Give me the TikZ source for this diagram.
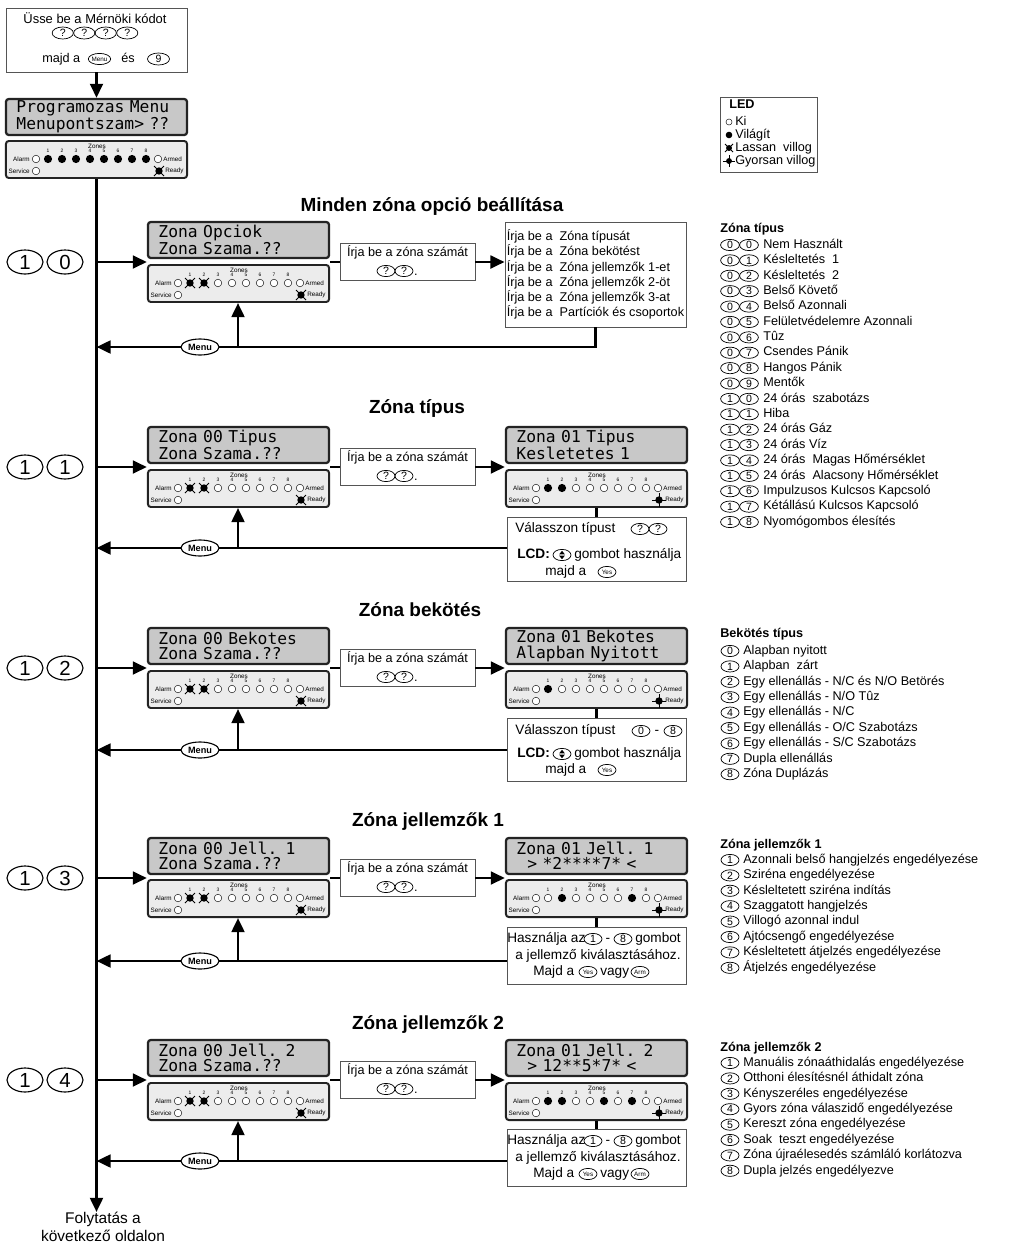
\documentclass[tikz,border=0pt]{standalone}
\usepackage{fontspec}
\setmainfont{Liberation Sans}
\setmonofont{DejaVu Sans Mono}
\usetikzlibrary{arrows.meta,shapes.geometric,positioning,calc}
\definecolor{lcdgray}  {RGB}{200,200,200}
\definecolor{panelgray}{RGB}{236,236,236}
\definecolor{boxline}  {RGB}{85,85,85}
\definecolor{frameline}{RGB}{35,35,35}

\tikzset{
  ledoff/.pic={\draw[line width=0.3pt,fill=white] (0,0) circle[radius=3.8];},
  ledon/.pic={\fill (0,0) circle[radius=4.1];},
  ledslow/.pic={\fill (0,0) circle[radius=3.7];
    \draw[line width=0.7pt] (-5,-5) -- (5,5) (-5,5) -- (5,-5);},
  ledfast/.pic={\fill (0,0) circle[radius=3.7];
    \draw[line width=0.6pt] (-7,0) -- (7,0) (0,-7) -- (0,7);},
  updn/.pic={\fill (-2.8,-0.7) -- (2.8,-0.7) -- (0,-4.2) -- cycle;
    \fill (-2.8,0.7) -- (2.8,0.7) -- (0,4.2) -- cycle;},
}

\begin{document}
\begin{tikzpicture}[x=0.025cm,y=-0.025cm,
  txt/.style={font=\fontsize{9}{10.8}\selectfont,inner sep=0pt,
              text height=6.5pt,text depth=1.9pt},
  anstxt/.style={txt,font=\fontsize{9.7}{11}\selectfont},
  hdr/.style={font=\fontsize{13.5}{16}\selectfont\bfseries,inner sep=0pt},
  listhdr/.style={txt,font=\fontsize{9}{10.8}\selectfont\bfseries,anchor=west},
  ledlbl/.style={font=\fontsize{4.5}{4.5}\selectfont,inner sep=0pt},
  kbtn/.style={ellipse,draw,line width=0.5pt,inner sep=0pt,
               minimum width=0.45cm,minimum height=0.28cm,
               text height=5.2pt,text depth=0pt,
               font=\fontsize{7.5}{7.5}\selectfont},
  smallkey/.style={kbtn,text height=3.2pt,font=\fontsize{4.5}{4.5}\selectfont},
  bigkey/.style={ellipse,draw,line width=0.8pt,inner sep=0pt,
                 minimum width=0.9cm,minimum height=0.6cm,
                 font=\fontsize{14.5}{14.5}\selectfont},
  menukey/.style={ellipse,draw,line width=0.8pt,fill=white,inner sep=0pt,
                  minimum width=0.95cm,minimum height=0.4cm,
                  font=\fontsize{6.5}{6.5}\selectfont\bfseries},
  lcd/.style={rectangle,rounded corners=2pt,draw=frameline,line width=1.6pt,
              fill=lcdgray,text width=4.0cm,inner xsep=0.2625cm,inner ysep=1pt,
              minimum height=0.9cm,align=left,
              font=\ttfamily\fontsize{11.6}{10.7}\selectfont},
  ledbox/.style={rectangle,rounded corners=2pt,draw=frameline,line width=1.4pt,
                 fill=panelgray,minimum width=4.525cm,minimum height=0.925cm},
  txtbox/.style={rectangle,draw=boxline,line width=0.6pt,fill=white},
  conn/.style={line width=2pt},
  arr/.style={conn,-{Triangle[length=10pt,width=9pt]}},
]
\useasboundingbox (0,0) rectangle (1024,1249);

%% Engineer code entry
\node[txtbox,minimum width=4.525cm,minimum height=1.6cm] (start) at (96.5,40) {};
\node[txt,font=\fontsize{9.2}{11}\selectfont] (starttxt) at (95,20) {Üsse be a Mérnöki kódot};
\foreach \i in {0,1,2,3}{
  \node[kbtn,minimum width=0.53cm,minimum height=0.3cm] (code\i) at (62.75+21.5*\i,33) {?};
}
\node[txt,anchor=west] (majd0) at (42,59) {majd a};
\node[smallkey,minimum width=0.5cm] (menu0) at (99.5,59) {Menu};
\node[txt] (es0) at (128,59) {és};
\node[kbtn,minimum width=0.55cm,minimum height=0.3cm] (nine) at (158.5,59) {9};

%% LCD displays
\foreach \n/\x/\y/\la/\lb in {
  lcd0/6/99/{Programozas Menu}/{Menupontszam> ??},
  lcdA10/148/222/{Zona Opciok}/{Zona Szama.??},
  lcdA11/148/427/{Zona 00 Tipus}/{Zona Szama.??},
  lcdB11/506/427/{Zona 01 Tipus}/{Kesletetes 1},
  lcdA12/148/628/{Zona 00 Bekotes}/{Zona Szama.??},
  lcdB12/506/628/{Zona 01 Bekotes}/{Alapban Nyitott},
  lcdA13/148/838/{Zona 00 Jell. 1}/{Zona Szama.??},
  lcdB13/506/838/{Zona 01 Jell. 1}/{~~> *2****7* <},
  lcdA14/148/1040/{Zona 00 Jell. 2}/{Zona Szama.??},
  lcdB14/506/1040/{Zona 01 Jell. 2}/{~~> 12**5*7* <}}{
  \node[lcd] (\n) at (\x+90.5,\y+18) {\la\\\lb};
}

%% LED panels (off / on / slow / fast)
\foreach \n/\x/\y/\st/\rd in {
  led0/6/141/{on,on,on,on,on,on,on,on}/slow,
  ledA10/148/265/{slow,slow,off,off,off,off,off,off}/slow,
  ledA11/148/470/{slow,slow,off,off,off,off,off,off}/slow,
  ledB11/506/470/{on,on,off,off,off,off,off,off}/fast,
  ledA12/148/671/{slow,slow,off,off,off,off,off,off}/slow,
  ledB12/506/671/{on,off,off,off,off,off,off,off}/fast,
  ledA13/148/880/{slow,slow,off,off,off,off,off,off}/slow,
  ledB13/506/880/{off,on,off,off,off,off,on,off}/fast,
  ledA14/148/1083/{slow,slow,off,off,off,off,off,off}/slow,
  ledB14/506/1083/{on,on,off,off,on,off,on,off}/fast}{
  \node[ledbox] (\n) at (\x+90.5,\y+18.5) {};
  \begin{scope}[shift={(\x,\y)}]
    \node[ledlbl] (\n-zones) at (91,5) {Zones};
    \node[ledlbl,anchor=east] (\n-alarm) at (24,18) {Alarm};
    \pic at (30,18) {ledoff};
    \node[ledlbl,anchor=east] (\n-svc) at (24,30) {Service};
    \pic at (30,30) {ledoff};
    \pic at (152,18) {ledoff};
    \node[ledlbl,anchor=west] (\n-armed) at (157,18) {Armed};
    \pic at (153,30) {led\rd};
    \node[ledlbl,anchor=west] (\n-ready) at (159,30) {Ready};
    \foreach \s [count=\k] in \st {
      \node[ledlbl,font=\fontsize{3.5}{3.5}\selectfont] (\n-\k) at (28+14*\k,10) {\k};
      \pic at (28+14*\k,18) {led\s};
    }
  \end{scope}
}

%% Main line
\node[txt,align=center,anchor=north,font=\fontsize{11}{12.8}\selectfont,
      text height=,text depth=] (cont) at (103,1212) {Folytatás a\\következő oldalon};
\draw[arr] (start.south) -- (start.south |- lcd0.north);
\draw[arr] (led0.south) -- (led0.south |- cont.north);

%% Section titles
\node[hdr] (hdr10) at (432,207) {Minden zóna opció beállítása};
\node[hdr] (hdr11) at (417,409) {Zóna típus};
\node[hdr] (hdr12) at (420,610) {Zóna bekötés};
\node[hdr] (hdr13) at (428,821) {Zóna jellemzők 1};
\node[hdr] (hdr14) at (428,1024) {Zóna jellemzők 2};

%% 10: option list
\node[txtbox,minimum width=4.525cm,minimum height=2.625cm,align=left,inner sep=1pt,
      font=\fontsize{9}{10.8}\selectfont] (big10) at (595.5,274.5)
  {Írja be a\ \ Zóna típusát\\Írja be a\ \ Zóna bekötést\\
   Írja be a\ \ Zóna jellemzők 1-et\\Írja be a\ \ Zóna jellemzők 2-öt\\
   Írja be a\ \ Zóna jellemzők 3-at\\Írja be a\ \ Partíciók és csoportok};

%% 11: zone type
\node[txtbox,minimum width=4.475cm,minimum height=1.6cm] (ans11) at (596.5,549) {};
\node[anstxt,anchor=west] (pick11) at (515,529) {Válasszon típust};
\node[kbtn] (pa11) at (640,529) {?};
\node[kbtn] (pb11) at (658,529) {?};
\node[anstxt,anchor=west,font=\fontsize{9.7}{11}\selectfont\bfseries] (lcdl11) at (517,555) {LCD:};
\node[kbtn] (ud11) at (562,555) {};
\pic at (ud11) {updn};
\node[anstxt,anchor=west] (use11) at (574,555) {gombot használja};
\node[anstxt,anchor=west] (then11) at (545,572) {majd a};
\node[smallkey] (yes11) at (607,572) {Yes};

%% 12: wiring
\node[txtbox,minimum width=4.475cm,minimum height=1.575cm] (ans12) at (596.5,749.5) {};
\node[anstxt,anchor=west] (pick12) at (515,731) {Válasszon típust};
\node[kbtn] (pa12) at (641,731) {0};
\node[anstxt] (dash12) at (657,731) {-};
\node[kbtn] (pb12) at (673,731) {8};
\node[anstxt,anchor=west,font=\fontsize{9.7}{11}\selectfont\bfseries] (lcdl12) at (517,754) {LCD:};
\node[kbtn] (ud12) at (562,754) {};
\pic at (ud12) {updn};
\node[anstxt,anchor=west] (use12) at (574,754) {gombot használja};
\node[anstxt,anchor=west] (then12) at (545,770) {majd a};
\node[smallkey] (yes12) at (607,770) {Yes};

%% 13 and 14: attributes
\foreach \s/\b in {13/927,14/1129}{
  \node[txtbox,minimum width=4.475cm,minimum height=1.425cm] (ans\s) at (596.5,\b+28.5) {};
  \node[anstxt,anchor=west] (use\s) at (507,\b+12) {Használja az};
  \node[kbtn] (fa\s) at (593,\b+12) {1};
  \node[anstxt] (dash\s) at (608,\b+12) {-};
  \node[kbtn] (fb\s) at (623,\b+12) {8};
  \node[anstxt,anchor=west] (btn\s) at (635,\b+12) {gombot};
  \node[anstxt] (sel\s) at (598,\b+29) {a jellemző kiválasztásához.};
  \node[anstxt,anchor=west] (then\s) at (533,\b+45) {Majd a};
  \node[smallkey] (yes\s) at (588,\b+45) {Yes};
  \node[anstxt,anchor=west] (or\s) at (600,\b+45) {vagy};
  \node[smallkey] (arm\s) at (640,\b+45) {Arm};
}

%% Menu items 10..14
\foreach \s/\d/\y/\m/\t in {10/0/222/347/big10, 11/1/427/548/lcdB11,
    12/2/628/750/lcdB12, 13/3/838/961/lcdB13, 14/4/1040/1161/lcdB14}{
  \node[bigkey] (ka\s) at (25,\y+40) {1};
  \node[bigkey] (kb\s) at (65,\y+40) {\d};
  \coordinate (m\s) at (96.5,\y+40);
  \draw[arr] (m\s) -- (lcdA\s.west |- m\s);
  \node[txtbox,minimum width=3.375cm,minimum height=0.925cm] (ask\s) at (407.5,\y+39.5) {};
  \node[txt] (askt\s) at (407.5,\y+31) {Írja be a zóna számát};
  \node[kbtn] (qa\s) at (386,\y+49) {?};
  \node[kbtn] (qb\s) at (404,\y+49) {?};
  \node[txt] (dot\s) at (416,\y+50) {.};
  \draw[conn] (lcdA\s.east |- m\s) -- (ask\s.west |- m\s);
  \draw[arr] (ask\s.east |- m\s) -- (\t.west |- m\s);
  \coordinate (r\s) at (96.5,\m);
  \ifnum\s=10
    \draw[arr] (big10.south) |- (r\s);
  \else
    \draw[conn] (ledB\s.south) -- (ledB\s.south |- ans\s.north);
    \draw[arr] (ans\s.west |- r\s) -- (r\s);
  \fi
  \node[menukey] (menu\s) at (200,\m) {Menu};
  \coordinate (up\s) at (238,\m);
  \draw[arr] (up\s) -- (up\s |- ledA\s.south);
}

%% LED legend
\node[txtbox,minimum width=2.425cm,minimum height=1.875cm] (legend) at (768.5,134.5) {};
\begin{scope}
  \clip (legend.south west) rectangle (legend.north east);
  \node[listhdr] (legled) at (729,105) {LED};
  \foreach \s/\t/\yy [count=\i] in {off/Ki/122, on/Világít/135,
      slow/Lassan\ \ villog/148, fast/Gyorsan villog/161}{
    \pic[scale=0.8] at (729,\yy) {led\s};
    \node[txt,anchor=west] (leg\i) at (735,\yy) {\t};
  }
\end{scope}

%% Zone types
\node[listhdr] (typhdr) at (720,229) {Zóna típus};
\foreach \a/\b/\t [count=\i from 0] in {0/0/Nem Használt, 0/1/Késleltetés\ \ 1,
    0/2/Késleltetés\ \ 2, 0/3/Belső Követő, 0/4/Belső Azonnali,
    0/5/Felületvédelemre Azonnali, 0/6/Tûz, 0/7/Csendes Pánik,
    0/8/Hangos Pánik, 0/9/Mentők, 1/0/24 órás\ \ szabotázs, 1/1/Hiba,
    1/2/24 órás Gáz, 1/3/24 órás Víz, 1/4/24 órás\ \ Magas Hőmérséklet,
    1/5/24 órás\ \ Alacsony Hőmérséklet, 1/6/Impulzusos Kulcsos Kapcsoló,
    1/7/Kétállású Kulcsos Kapcsoló, 1/8/Nyomógombos élesítés}{
  \node[kbtn,minimum width=0.47cm] (ta\i) at (730,245+15.39*\i) {\a};
  \node[kbtn,minimum width=0.47cm] (tb\i) at (749,245+15.39*\i) {\b};
  \node[txt,anchor=west] (tt\i) at (763,245+15.39*\i) {\t};
}

%% Wiring types
\node[listhdr] (wirhdr) at (720,634) {Bekötés típus};
\foreach \k/\t in {0/Alapban nyitott, 1/Alapban\ \ zárt,
    2/{Egy ellenállás - N/C és N/O Betörés}, 3/{Egy ellenállás - N/O Tûz},
    4/{Egy ellenállás - N/C}, 5/{Egy ellenállás - O/C Szabotázs},
    6/{Egy ellenállás - S/C Szabotázs}, 7/Dupla ellenállás, 8/Zóna Duplázás}{
  \node[kbtn] (wk\k) at (730,651+15.4*\k) {\k};
  \node[txt,anchor=west] (wt\k) at (743,651+15.4*\k) {\t};
}

%% Attributes 1
\node[listhdr] (j1hdr) at (720,845) {Zóna jellemzők 1};
\foreach \t [count=\k] in {Azonnali belső hangjelzés engedélyezése,
    Sziréna engedélyezése, Késleltetett sziréna indítás, Szaggatott hangjelzés,
    Villogó azonnal indul, Ajtócsengő engedélyezése,
    Késleltetett átjelzés engedélyezése, Átjelzés engedélyezése}{
  \node[kbtn] (ja\k) at (730,860+15.4*\k-15.4) {\k};
  \node[txt,anchor=west] (jt\k) at (743,860+15.4*\k-15.4) {\t};
}

%% Attributes 2
\node[listhdr] (j2hdr) at (720,1048) {Zóna jellemzők 2};
\foreach \t [count=\k] in {Manuális zónaáthidalás engedélyezése,
    Otthoni élesítésnél áthidalt zóna, Kényszeréles engedélyezése,
    Gyors zóna válaszidő engedélyezése, Kereszt zóna engedélyezése,
    Soak\ \ teszt engedélyezése, Zóna újraélesedés számláló korlátozva,
    Dupla jelzés engedélyezve}{
  \node[kbtn] (jb\k) at (730,1063+15.4*\k-15.4) {\k};
  \node[txt,anchor=west] (ju\k) at (743,1063+15.4*\k-15.4) {\t};
}
\end{tikzpicture}
\end{document}
